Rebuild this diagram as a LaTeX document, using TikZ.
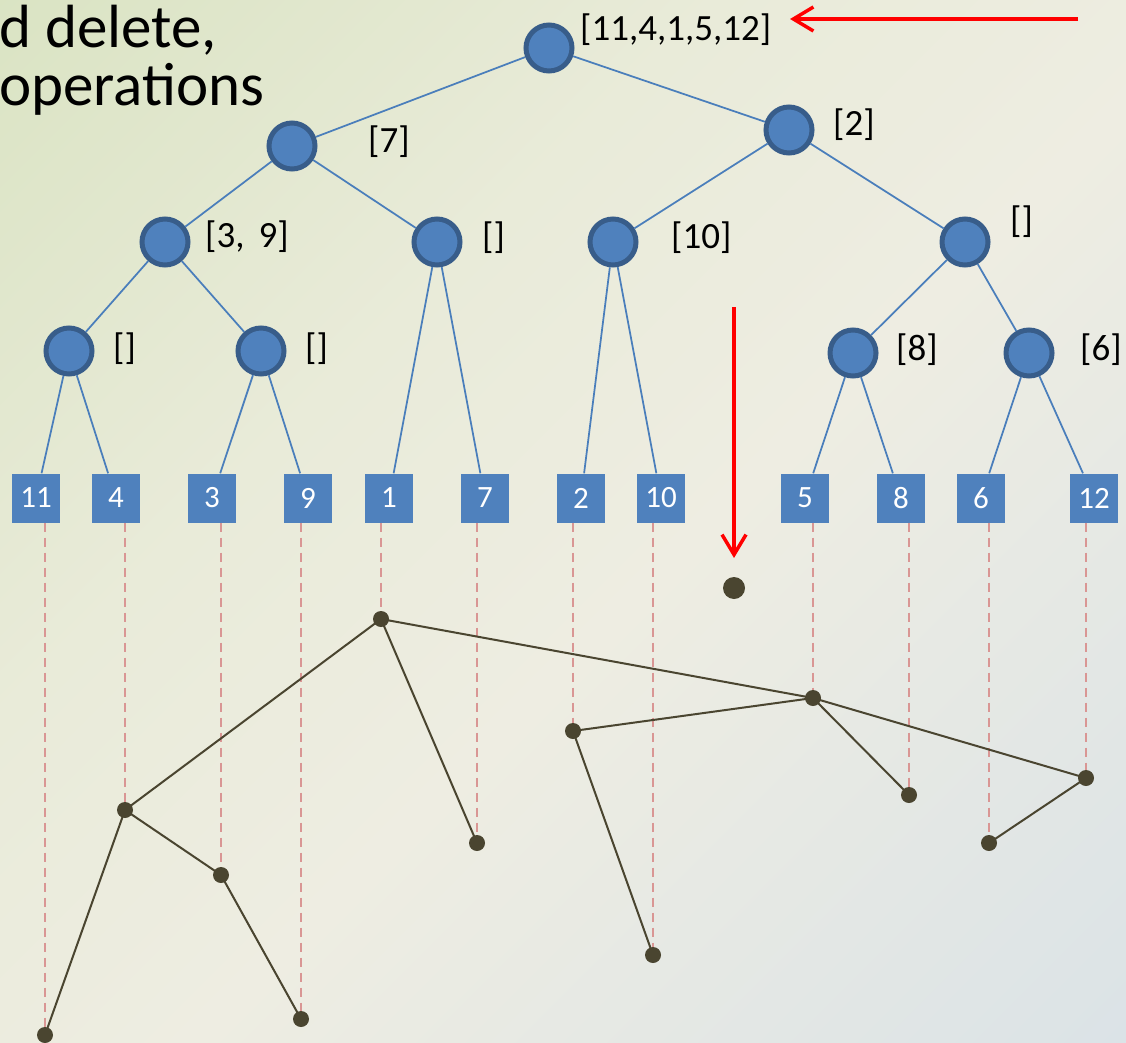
\documentclass[tikz,border=0pt]{standalone}
\usepackage{fontspec}
\setmainfont{Carlito}
\usetikzlibrary{arrows.meta}
\definecolor{nodefill}{HTML}{4F81BD}
\definecolor{nodeedge}{HTML}{385D8A}
\definecolor{treeline}{HTML}{4A7EBB}
\definecolor{ptcol}{HTML}{4A4530}
\definecolor{dashcol}{HTML}{D99694}
\definecolor{bgA}{HTML}{D1DFB6}
\definecolor{bgB}{HTML}{E9EBD9}
\definecolor{bgC}{HTML}{EEEDE2}
\definecolor{bgD}{HTML}{D2DEE9}
\pgfdeclarehorizontalshading{bgdiag}{100bp}{color(0bp)=(bgA); color(38bp)=(bgB); color(55bp)=(bgC); color(100bp)=(bgD)}
\begin{document}
\begin{tikzpicture}[x=1pt,y=-1pt,
  inner/.style={circle, fill=nodefill, draw=nodeedge, line width=5pt, minimum size=46pt, inner sep=0pt},
  leafbox/.style={rectangle, fill=nodefill, text=white, minimum width=48pt, minimum height=49pt, inner sep=0pt, font=\fontsize{31}{34}\selectfont},
  lbl/.style={anchor=west, inner sep=0pt, font=\fontsize{37}{40}\selectfont},
  tedge/.style={draw=treeline, line width=1.75pt},
  ptnode/.style={circle, fill=ptcol, minimum size=16pt, inner sep=0pt},
  pedge/.style={draw=ptcol, line width=2pt},
  guide/.style={draw=dashcol, line width=2.5pt, dash pattern=on 9pt off 6pt},
  redarrow/.style={draw=red, line width=3.5pt, -{Straight Barb[length=20pt, width=24pt]}},
  titletext/.style={anchor=base west, inner sep=0pt, font=\fontsize{61}{66}\selectfont}
]
\useasboundingbox (0,0) rectangle (1126,1043);
\shade[shading=bgdiag, shading angle=-45] (0,0) rectangle (1126,1043);

% title fragment
\node[titletext] (t1) at (-1,48) {d delete,};
\node[titletext] (t2) at (-1,106) {operations};

% internal nodes
\node[inner] (r) at (549,48) {};
\node[inner] (a) at (292,146) {};
\node[inner] (b) at (789,130) {};
\node[inner] (c) at (165,242) {};
\node[inner] (d) at (437,242) {};
\node[inner] (e) at (613,242) {};
\node[inner] (f) at (965,242) {};
\node[inner] (g) at (69,351) {};
\node[inner] (h) at (261,351) {};
\node[inner] (i) at (853,353) {};
\node[inner] (j) at (1029,353) {};

% labels
\node[lbl] (lr) at (580,30) {[11,4,1,5,12]};
\node[lbl] (la) at (368,142) {[7]};
\node[lbl] (lb) at (833,125) {[2]};
\node[lbl] (lc) at (205,237) {[3,\hspace{14pt}9]};
\node[lbl] (ld) at (482,238) {[]};
\node[lbl] (le) at (671,238) {[10]};
\node[lbl] (lf) at (1010,222) {[]};
\node[lbl] (lg) at (113,349) {[]};
\node[lbl] (lh) at (305,349) {[]};
\node[lbl] (li) at (896,350) {[8]};
\node[lbl] (lj) at (1080,350) {[6]};

% leaves
\node[leafbox] (L11) at (36,498) {11};
\node[leafbox] (L4) at (116,498) {4};
\node[leafbox] (L3) at (212,498) {3};
\node[leafbox] (L9) at (308,498) {9};
\node[leafbox] (L1) at (389,498) {1};
\node[leafbox] (L7) at (485,498) {7};
\node[leafbox] (L2) at (581,498) {2};
\node[leafbox] (L10) at (661,498) {10};
\node[leafbox] (L5) at (805,498) {5};
\node[leafbox] (L8) at (901,498) {8};
\node[leafbox] (L6) at (981,498) {6};
\node[leafbox] (L12) at (1094,498) {12};

% tree edges
\draw[tedge] (r) -- (a);
\draw[tedge] (r) -- (b);
\draw[tedge] (a) -- (c);
\draw[tedge] (a) -- (d);
\draw[tedge] (b) -- (e);
\draw[tedge] (b) -- (f);
\draw[tedge] (c) -- (g);
\draw[tedge] (c) -- (h);
\draw[tedge] (f) -- (i);
\draw[tedge] (f) -- (j);
\draw[tedge] (g) -- (L11);
\draw[tedge] (g) -- (L4);
\draw[tedge] (h) -- (L3);
\draw[tedge] (h) -- (L9);
\draw[tedge] (d) -- (L1);
\draw[tedge] (d) -- (L7);
\draw[tedge] (e) -- (L2);
\draw[tedge] (e) -- (L10);
\draw[tedge] (i) -- (L5);
\draw[tedge] (i) -- (L8);
\draw[tedge] (j) -- (L6);
\draw[tedge] (j) -- (L12);

% bottom points
\coordinate (c1) at (381,619);
\coordinate (c5) at (813,698);
\coordinate (c4) at (125,810);
\coordinate (c3) at (221,875);
\coordinate (c9) at (301,1019);
\coordinate (c11) at (45,1035);
\coordinate (c7) at (477,843);
\coordinate (c2) at (573,731);
\coordinate (c10) at (653,955);
\coordinate (c8) at (909,795);
\coordinate (c12) at (1086,778);
\coordinate (c6) at (989,843);

% dashed guides
\foreach \k in {11,4,3,9,1,7,2,10,5,8,6,12}{
  \draw[guide] (c\k |- L\k.south) -- (c\k);
}

% point edges
\draw[pedge] (c1) -- (c4);
\draw[pedge] (c1) -- (c7);
\draw[pedge] (c1) -- (c5);
\draw[pedge] (c4) -- (c11);
\draw[pedge] (c4) -- (c3);
\draw[pedge] (c3) -- (c9);
\draw[pedge] (c5) -- (c2);
\draw[pedge] (c5) -- (c8);
\draw[pedge] (c5) -- (c12);
\draw[pedge] (c2) -- (c10);
\draw[pedge] (c12) -- (c6);

\foreach \k in {11,4,3,9,1,7,2,10,5,8,6,12}{
  \node[ptnode] (P\k) at (c\k) {};
}
\node[ptnode, minimum size=22pt] (Pnew) at (734,588) {};

% red arrows
\coordinate (h0) at (1078,19);
\coordinate (h1) at (790,19);
\draw[redarrow] (h0) -- (h1);
\coordinate (v0) at (734,307);
\coordinate (v1) at (734,558);
\draw[redarrow] (v0) -- (v1);
\end{tikzpicture}
\end{document}
